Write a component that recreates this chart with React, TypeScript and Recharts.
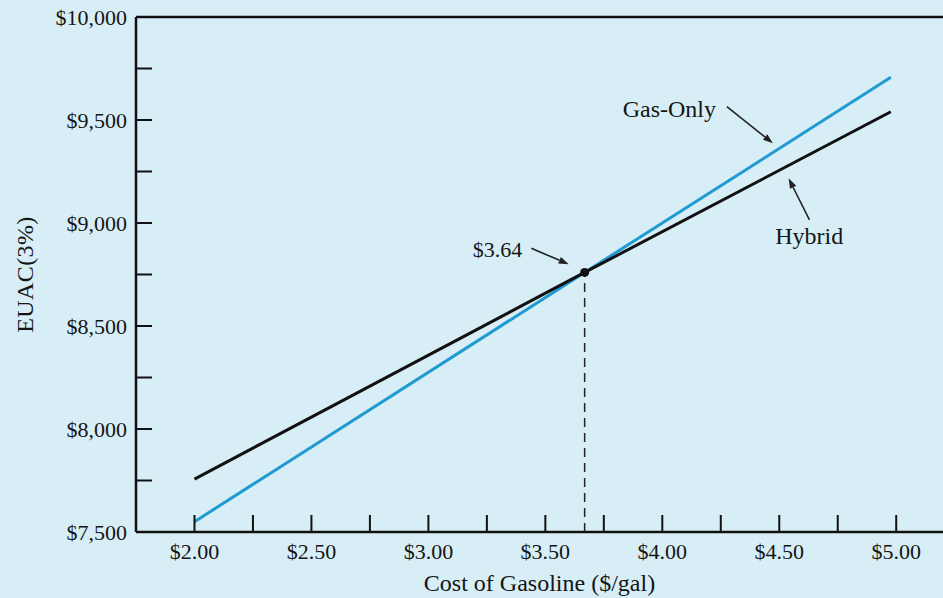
import React from 'react';
import { LineChart, Line, XAxis, YAxis, ReferenceLine, ReferenceDot, Label } from 'recharts';

// ---- data ----
const prices = [2.0, 3.668, 4.977];
const gasOnly = [7550, 8760, 9707];
const hybrid = [7757, 8760, 9540];

const xTicks = [2.0, 2.25, 2.5, 2.75, 3.0, 3.25, 3.5, 3.75, 4.0, 4.25, 4.5, 4.75, 5.0];
const yTicks = [7500, 7750, 8000, 8250, 8500, 8750, 9000, 9250, 9500, 9750, 10000];

const breakEven = { x: 3.668, y: 8760, label: '$3.64' };

const annotationTexts = [
  { text: '$3.64', x: 3.295, y: 8833, size: 22 },
  { text: 'Gas-Only', x: 4.03, y: 9516, size: 24 },
  { text: 'Hybrid', x: 4.628, y: 8898, size: 24 },
];
const annotationArrows = [
  { x1: 3.44, y1: 8877, x2: 3.6, y2: 8800 },
  { x1: 4.276, y1: 9565, x2: 4.473, y2: 9387 },
  { x1: 4.629, y1: 9015, x2: 4.54, y2: 9217 },
];

const data = prices.map((p, i) => ({ x: p, gas: gasOnly[i], hybrid: hybrid[i] }));

const FONT = '"Liberation Serif", "Times New Roman", serif';
const TXT = '#151515';

const YTick = (props: any) => {
  const { x, y, payload } = props;
  const ax = x + 9;
  const v = payload.value as number;
  return (
    <g>
      <line x1={ax} x2={ax + 16} y1={y} y2={y} stroke="#111" strokeWidth={2} />
      {v % 500 === 0 && (
        <text x={x} y={y + 7.5} textAnchor="end" fontFamily={FONT} fontSize={22} fill={TXT}>
          {'$' + v.toLocaleString('en-US')}
        </text>
      )}
    </g>
  );
};

const XTick = (props: any) => {
  const { x, y, payload } = props;
  const v = payload.value as number;
  const major = Math.abs(v * 2 - Math.round(v * 2)) < 1e-6;
  return (
    <g>
      <line x1={x} x2={x} y1={y} y2={y - 17} stroke="#111" strokeWidth={2} />
      {major && (
        <text x={x} y={y + 27} textAnchor="middle" fontFamily={FONT} fontSize={22} fill={TXT}>
          {'$' + v.toFixed(2)}
        </text>
      )}
    </g>
  );
};

const Arrow = (p: any) => {
  const { x1, y1, x2, y2 } = p;
  const dx = x2 - x1;
  const dy = y2 - y1;
  const len = Math.sqrt(dx * dx + dy * dy) || 1;
  const ux = dx / len;
  const uy = dy / len;
  const hl = 10;
  const hw = 3.5;
  const bx = x2 - ux * hl;
  const by = y2 - uy * hl;
  const pts = `${x2},${y2} ${bx - uy * hw},${by + ux * hw} ${bx + uy * hw},${by - ux * hw}`;
  return (
    <g>
      <line x1={x1} y1={y1} x2={bx} y2={by} stroke="#222" strokeWidth={1.6} />
      <polygon points={pts} fill="#222" />
    </g>
  );
};

export default function App() {
  return (
    <div style={{ position: 'absolute', left: 0, top: 0, width: 943, height: 598, background: '#d8eef6' }}>
      <LineChart width={943} height={598} data={data} margin={{ top: 17, right: 0, left: 0, bottom: 0 }}>
        <XAxis
          dataKey="x"
          type="number"
          domain={[1.75, 5.2]}
          allowDataOverflow
          ticks={xTicks}
          interval={0}
          tickSize={0}
          tickMargin={0}
          tickLine={false}
          tick={<XTick />}
          height={66}
          axisLine={{ stroke: '#111', strokeWidth: 2.5 }}
        >
          <Label
            content={(lp: any) => {
              const vb = lp.viewBox || {};
              return (
                <text
                  x={vb.x + vb.width / 2}
                  y={vb.y + 59}
                  textAnchor="middle"
                  fontFamily={FONT}
                  fontSize={24}
                  fill={TXT}
                >
                  Cost of Gasoline ($/gal)
                </text>
              );
            }}
          />
        </XAxis>
        <YAxis
          type="number"
          domain={[7500, 10000]}
          allowDataOverflow
          ticks={yTicks}
          interval={0}
          tickSize={0}
          tickMargin={9}
          tickLine={false}
          tick={<YTick />}
          width={136}
          axisLine={{ stroke: '#111', strokeWidth: 2.5 }}
        >
          <Label
            content={(lp: any) => {
              const vb = lp.viewBox || {};
              const cx = vb.x + 33;
              const cy = vb.y + vb.height / 2;
              return (
                <text
                  x={cx}
                  y={cy}
                  transform={`rotate(-90, ${cx}, ${cy})`}
                  textAnchor="middle"
                  fontFamily={FONT}
                  fontSize={24}
                  letterSpacing={0.4}
                  fill={TXT}
                >
                  EUAC(3%)
                </text>
              );
            }}
          />
        </YAxis>
        <ReferenceLine y={10000} stroke="#111" strokeWidth={2.5} />
        <ReferenceLine
          segment={[
            { x: breakEven.x, y: 7500 },
            { x: breakEven.x, y: breakEven.y },
          ]}
          stroke="#222"
          strokeWidth={1.5}
          strokeDasharray="9 6"
        />
        <Line
          dataKey="gas"
          name="Gas-Only"
          stroke="#1f9bd1"
          strokeWidth={3}
          dot={false}
          activeDot={false}
          isAnimationActive={false}
        />
        <Line
          dataKey="hybrid"
          name="Hybrid"
          stroke="#111"
          strokeWidth={3}
          dot={false}
          activeDot={false}
          isAnimationActive={false}
        />
        <ReferenceDot x={breakEven.x} y={breakEven.y} r={4.5} fill="#111" stroke="none" />
        {annotationArrows.map((a, i) => (
          <ReferenceLine
            key={'arr' + i}
            segment={[
              { x: a.x1, y: a.y1 },
              { x: a.x2, y: a.y2 },
            ]}
            shape={(p: any) => <Arrow {...p} />}
          />
        ))}
        {annotationTexts.map((t, i) => (
          <ReferenceDot
            key={'txt' + i}
            x={t.x}
            y={t.y}
            r={0}
            shape={(p: any) => (
              <text
                x={p.cx}
                y={p.cy}
                textAnchor="middle"
                fontFamily={FONT}
                fontSize={t.size}
                fill={TXT}
              >
                {t.text}
              </text>
            )}
          />
        ))}
      </LineChart>
    </div>
  );
}
